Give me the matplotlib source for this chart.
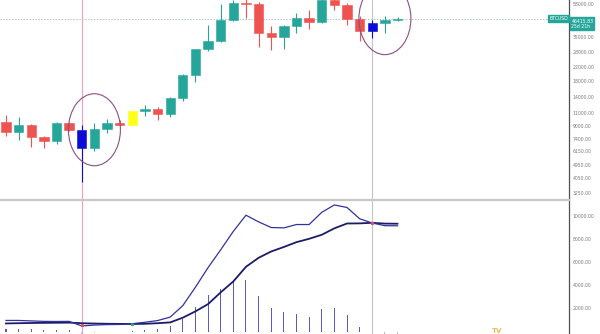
import numpy as np
import matplotlib.pyplot as plt
import matplotlib.transforms as mtransforms
from matplotlib.patches import Ellipse
from matplotlib.ticker import NullLocator

# -------------------------------
# DATA: BTCUSD monthly candles
# -------------------------------

months = ["2019-09", "2019-10", "2019-11", "2019-12", "2020-01", "2020-02", "2020-03", "2020-04",
          "2020-05", "2020-06", "2020-07", "2020-08", "2020-09", "2020-10", "2020-11", "2020-12",
          "2021-01", "2021-02", "2021-03", "2021-04", "2021-05", "2021-06", "2021-07", "2021-08",
          "2021-09", "2021-10", "2021-11", "2021-12", "2022-01", "2022-02", "2022-03", "2022-04"]

opens = [9500, 8250, 9150, 7550, 7190, 9350, 8520, 6410, 8620, 9450, 9140, 11350, 11650, 10780,
         13800, 19700, 28990, 33110, 45240, 58800, 57700, 37300, 35040, 41460, 47100, 43790,
         61300, 57000, 46200, 38480, 43190, 45540]
highs = [10700, 10300, 9270, 7750, 9580, 9600, 9150, 9400, 10070, 9800, 11450, 12480, 12080, 14100,
         19860, 29300, 41950, 58350, 61800, 64850, 59500, 41300, 42300, 50500, 52900, 66930,
         69000, 59100, 47990, 45800, 48240, 47450]
lows = [7750, 7300, 6520, 6430, 6850, 8300, 3850, 6150, 8110, 8950, 8950, 10540, 9880, 10380,
        13200, 17570, 28130, 32300, 44950, 47000, 30000, 28800, 29300, 37330, 39600, 43280,
        53260, 42000, 32950, 34300, 37150, 45100]
closes = [8250, 9150, 7550, 7190, 9350, 8520, 6410, 8620, 9450, 9140, 11350, 11650, 10780, 13800,
          19700, 28990, 33110, 45240, 58800, 57700, 37300, 35040, 41460, 47100, 43790, 61300,
          57000, 46200, 38480, 43190, 45540, 46415.83]

# MACD (12, 26, 9) and its signal line
macd_line = [960, 960, 920, 880, 870, 880, 480, 560, 600, 610, 680, 800, 950, 1250, 2250, 3850,
             5550, 7100, 8700, 10100, 9520, 9030, 9000, 9290, 9290, 10350, 10990, 10770, 9790,
             9420, 9190, 9180]
signal_line = [700, 720, 740, 750, 760, 770, 720, 690, 670, 660, 650, 670, 720, 790, 1200, 1750,
               2380, 3400, 4350, 5620, 6400, 6950, 7340, 7760, 8050, 8400, 8960, 9380, 9390,
               9440, 9370, 9360]

last_price = 46415.83
time_left = "25d 21h"
price_ticks = [58000, 35000, 28000, 22000, 18000, 14000, 11000, 9000, 7400, 6150, 4950, 4050, 3250]
macd_ticks = [2000, 4000, 6000, 8000, 10000]

# highlighted candles and marker lines
special_colors = {6: "#0b0bd6", 10: "#ffff1a", 29: "#0b0bd6"}
marker_lines = [(6, "#f2a3b3"), (29, "#c4c4c4")]
circle_x = [7, 30]
circle_y = [8500, 46400]

UP = "#26a69a"
DOWN = "#ef5350"

# -------------------------------
# FIGURE LAYOUT
# -------------------------------

fig = plt.figure(figsize=(6.0, 3.34), dpi=100)
ax = fig.add_axes([0, 135 / 334, 569 / 600, 199 / 334])
ax2 = fig.add_axes([0, 0, 569 / 600, 134 / 334])

x = np.arange(len(months))
xlim = (-6 / 12.63, (569 - 6) / 12.63)

# -------------------------------
# PRICE PANE
# -------------------------------

ax.set_yscale("log")
ax.set_xlim(*xlim)
ax.set_ylim(2950, 61700)

colors = []
for i in range(len(x)):
    if i in special_colors:
        colors.append(special_colors[i])
    elif closes[i] >= opens[i]:
        colors.append(UP)
    else:
        colors.append(DOWN)

ax.vlines(x, lows, highs, colors=colors, linewidth=0.8, zorder=2)
body_low = np.minimum(opens, closes)
body_h = np.abs(np.array(closes) - np.array(opens))
body_h = np.maximum(body_h, body_low * 0.012)
ax.bar(x, body_h, bottom=body_low, width=0.74, color=colors, edgecolor=colors,
       linewidth=0.4, zorder=3)

# last price line and tags
ax.axhline(last_price, color="#a9c6cc", linestyle=(0, (1.5, 1.5)), linewidth=0.7, zorder=1)
blend = mtransforms.blended_transform_factory(ax.transAxes, ax.transData)
ax.text(0.998, last_price, "BTCUSD", transform=blend, ha="right", va="center",
        fontsize=3.3, color="white", zorder=5,
        bbox=dict(boxstyle="square,pad=0.25", fc=UP, ec=UP))
ax.text(1.004, last_price, f"{last_price:.2f}\n{time_left}", transform=blend, ha="left",
        va="top", fontsize=3.3, color="white", linespacing=1.1, clip_on=False, zorder=5,
        bbox=dict(boxstyle="square,pad=0.25", fc=UP, ec=UP))

for xi, c in marker_lines:
    ax.axvline(xi, color=c, linewidth=0.8, zorder=1)
    ax2.axvline(xi, color=c, linewidth=0.8, zorder=1)

# circles around the highlighted candles
for cx, cy in zip(circle_x, circle_y):
    fx, fy = ax.transAxes.inverted().transform(ax.transData.transform((cx, cy)))
    ax.add_patch(Ellipse((fx, fy), 52 / 569, 72 / 199, transform=ax.transAxes,
                         fill=False, edgecolor="#8c4f82", linewidth=0.8, zorder=4))

ax.yaxis.tick_right()
ax.set_yticks(price_ticks)
ax.set_yticklabels([f"{v:.2f}" for v in price_ticks])
ax.yaxis.set_minor_locator(NullLocator())
ax.tick_params(axis="y", length=0, pad=2.5, labelsize=3.3, labelcolor="#7a7a7a")
ax.set_xticks([])
for side in ["top", "left", "bottom"]:
    ax.spines[side].set_visible(False)
ax.spines["right"].set_color("#505050")
ax.spines["right"].set_linewidth(0.9)

# -------------------------------
# MACD PANE
# -------------------------------

macd_arr = np.array(macd_line)
sig_arr = np.array(signal_line)
hist = macd_arr - sig_arr

ax2.set_xlim(*xlim)
ax2.set_ylim(-217, 11420)
ax2.bar(x, hist, width=0.08, color=["#5b5bc6" if h >= 0 else "#b8b8ea" for h in hist],
        zorder=2)
ax2.plot(x, sig_arr, color="#1c1c68", linewidth=1.3, zorder=3)
ax2.plot(x, macd_arr, color="#32329e", linewidth=0.9, zorder=3)

# crossover dots
sign = np.sign(hist)
cross = [i for i in range(1, len(x)) if sign[i] != sign[i - 1]]
for i in cross:
    dot_color = "#28a07a" if hist[i] > 0 else "#e04a5e"
    ax2.scatter(i, (macd_arr[i] + sig_arr[i]) / 2, s=6, color=dot_color, zorder=4, linewidths=0)

ax2.yaxis.tick_right()
ax2.set_yticks(macd_ticks)
ax2.set_yticklabels([f"{v:.2f}" for v in macd_ticks])
ax2.yaxis.set_minor_locator(NullLocator())
ax2.tick_params(axis="y", length=0, pad=2.5, labelsize=3.3, labelcolor="#7a7a7a")
ax2.set_xticks([])
for side in ["left", "bottom"]:
    ax2.spines[side].set_visible(False)
ax2.spines["top"].set_color("#c8c8c8")
ax2.spines["top"].set_linewidth(1.6)
ax2.spines["right"].set_color("#505050")
ax2.spines["right"].set_linewidth(0.9)

# faint watermark at the bottom
fig.text(497 / 600, 1 - 331 / 334, "TV", fontsize=5, fontweight="bold", color="#f0a830",
         alpha=0.8, ha="center", va="center")

fig.savefig("out.png", dpi=100)
plt.close(fig)
